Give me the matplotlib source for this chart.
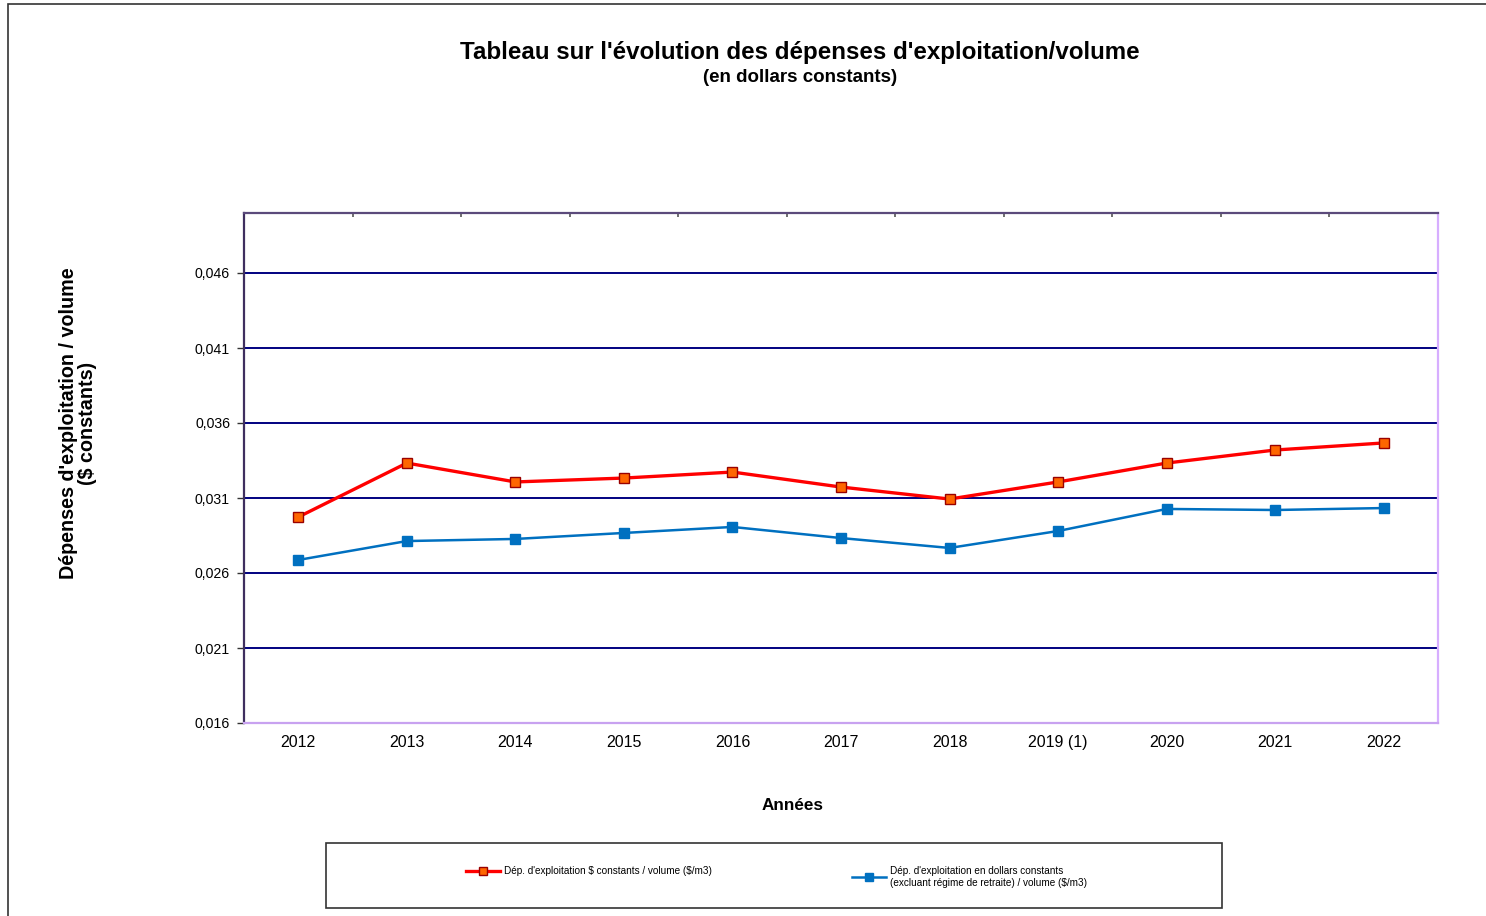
import numpy as np
import matplotlib
matplotlib.use('Agg')
import matplotlib.pyplot as plt
from matplotlib.patches import Rectangle
from matplotlib.ticker import FixedLocator, FuncFormatter

plt.rcParams['font.family'] = ['Liberation Sans', 'DejaVu Sans']

# Data
years = ['2012', '2013', '2014', '2015', '2016', '2017', '2018', '2019 (1)', '2020', '2021', '2022']
dep_constants = [0.02973, 0.03333, 0.03207, 0.03233, 0.03273, 0.03173, 0.03093, 0.03207, 0.03333, 0.03420, 0.03467]
dep_sans_retraite = [0.02687, 0.02813, 0.02827, 0.02867, 0.02907, 0.02833, 0.02767, 0.02880, 0.03027, 0.03020, 0.03033]
y_ticks = [0.016, 0.021, 0.026, 0.031, 0.036, 0.041, 0.046]

label_red = "Dép. d'exploitation \\$ constants / volume (\\$/m3)"
label_blue = "Dép. d'exploitation en dollars constants\n(excluant régime de retraite) / volume (\\$/m3)"

W, H = 1486, 916
fig = plt.figure(figsize=(W / 100, H / 100), dpi=100)

# outer chart border (left and top visible)
fig.add_artist(Rectangle((8 / W, -0.02), 1.1, 1 - 4 / H + 0.02, transform=fig.transFigure,
                         fill=False, edgecolor='#333333', linewidth=1.2))

ax = fig.add_axes([244 / W, 1 - 723 / H, (1438 - 244) / W, (723 - 213) / H])

x = np.arange(len(years))
ax.plot(x, dep_constants, color='#FF0000', linewidth=2.4, marker='s', markersize=7.5,
        markerfacecolor='#FF6600', markeredgecolor='#990000', markeredgewidth=1.0,
        label=label_red, zorder=4)
ax.plot(x, dep_sans_retraite, color='#0070C0', linewidth=1.8, marker='s', markersize=7.5,
        markerfacecolor='#0070C0', markeredgecolor='#0070C0',
        label=label_blue, zorder=3)

ax.set_xlim(-0.5, len(years) - 0.5)
ax.set_ylim(0.016, 0.050)

ax.set_xticks(x)
ax.set_xticklabels(years, fontsize=11.5)
for lbl in ax.get_xticklabels():
    lbl.set_verticalalignment('baseline')
ax.xaxis.set_minor_locator(FixedLocator(np.arange(-0.5, len(years), 1.0)))
ax.tick_params(axis='x', which='major', length=0, pad=17)
ax.tick_params(axis='x', which='minor', bottom=False, top=True, direction='in',
               length=3, width=1.2, color='#555555')

ax.yaxis.set_major_locator(FixedLocator(y_ticks))
ax.yaxis.set_major_formatter(FuncFormatter(lambda v, p: f'{v:.3f}'.replace('.', ',')))
ax.tick_params(axis='y', labelsize=10.2, length=5, width=1.0, pad=5, color='#333333')

for yv in y_ticks[1:]:
    ax.axhline(yv, color='#000080', linewidth=1.4, zorder=1)

ax.spines['top'].set_color('#5B4A7B')
ax.spines['left'].set_color('#3F2F5F')
ax.spines['bottom'].set_color('#C8A2F0')
ax.spines['right'].set_color('#D7AEFF')
for s in ax.spines.values():
    s.set_linewidth(1.6)

fig.text(800 / W, 1 - 53 / H, "Tableau sur l'évolution des dépenses d'exploitation/volume",
         ha='center', va='center', fontsize=17.4, fontweight='bold')
fig.text(800 / W, 1 - 77 / H, "(en dollars constants)",
         ha='center', va='center', fontsize=13.5, fontweight='bold')
fig.text(78 / W, 1 - 423 / H, "Dépenses d'exploitation / volume\n($ constants)",
         ha='center', va='center', rotation=90, fontsize=14.2, fontweight='bold',
         multialignment='center', linespacing=1.05)
fig.text(793 / W, 1 - 806 / H, "Années", ha='center', va='center',
         fontsize=12.3, fontweight='bold')

# legend box
fig.add_artist(Rectangle((326 / W, 1 - 908 / H), (1222 - 326) / W, 65 / H,
                         transform=fig.transFigure, fill=False,
                         edgecolor='#333333', linewidth=1.2))
h = ax.get_legend_handles_labels()[0]
leg1 = fig.legend([h[0]], [label_red], loc='upper left', bbox_to_anchor=(466 / W, 1 - 866 / H),
                  frameon=False, fontsize=7.2, handlelength=3.4, handletextpad=0.4,
                  borderpad=0, borderaxespad=0, markerscale=0.7)
leg2 = fig.legend([h[1]], [label_blue], loc='upper left', bbox_to_anchor=(852 / W, 1 - 866 / H),
                  frameon=False, fontsize=7.2, handlelength=3.4, handletextpad=0.4,
                  borderpad=0, borderaxespad=0, markerscale=0.7)

fig.savefig('out.png', dpi=100)
